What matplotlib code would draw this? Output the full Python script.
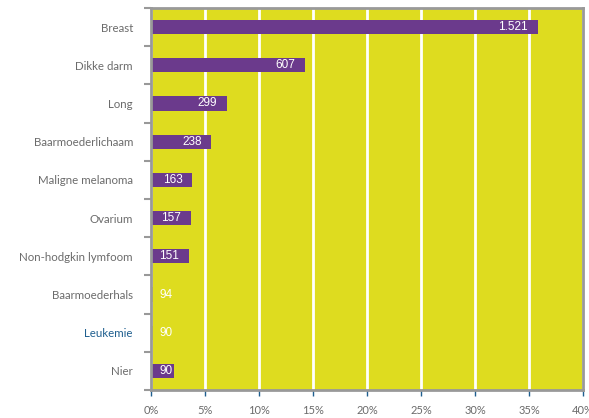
import matplotlib
matplotlib.use("Agg")
import matplotlib.pyplot as plt
from matplotlib.ticker import FixedLocator, FuncFormatter

# Cancer types (top to bottom) and number of cases
categories = ["Breast", "Dikke darm", "Long", "Baarmoederlichaam", "Maligne melanoma",
              "Ovarium", "Non-hodgkin lymfoom", "Baarmoederhals", "Leukemie", "Nier"]
counts = [1521, 607, 299, 238, 163, 157, 151, 94, 90, 90]
total_cases = 4250
xticks = [0, 5, 10, 15, 20, 25, 30, 35, 40]

BG = "#DEDC1F"
PURPLE = "#6B3A8C"
GREY = "#999999"
TEXT = "#6b6b6b"
BLUE = "#1F5F8F"
# bars without a fill for two rows
bar_colors = [PURPLE] * 7 + [BG, BG] + [PURPLE]
label_colors = [TEXT] * 8 + [BLUE] + [TEXT]

pct = [c / total_cases * 100 for c in counts]

fig = plt.figure(figsize=(5.89, 4.18), dpi=100)
ax = fig.add_axes([151 / 589, 1 - 390 / 418, 432 / 589, 382 / 418])
ax.set_facecolor(BG)

y = list(range(len(categories)))
ax.barh(y, pct, height=0.37, color=bar_colors, zorder=3)

ax.set_xlim(0, 40)
ax.set_ylim(len(categories) - 0.5, -0.5)

# white vertical gridlines
ax.xaxis.set_major_locator(FixedLocator(xticks))
ax.grid(axis="x", color="white", linewidth=2, zorder=1)
ax.set_axisbelow(True)
ax.xaxis.set_major_formatter(FuncFormatter(lambda v, p: f"{v:.0f}%"))
ax.tick_params(axis="x", direction="out", length=4, width=1, color=BLUE,
               labelcolor=TEXT, labelsize=8, pad=7)
for lab in ax.get_xticklabels():
    lab.set_fontfamily("Lato")

# category labels with tick marks between rows
ax.set_yticks(y)
ax.set_yticklabels(categories)
ax.tick_params(axis="y", which="major", length=0, pad=13, labelsize=8.3)
for lab, col in zip(ax.get_yticklabels(), label_colors):
    lab.set_color(col)
    lab.set_fontfamily("Lato")
ax.set_yticks([i + 0.5 for i in range(-1, len(categories))], minor=True)
ax.tick_params(axis="y", which="minor", direction="out", length=5, width=1.5, color=GREY)

for s in ax.spines.values():
    s.set_color(GREY)
    s.set_linewidth(2)
    s.set_zorder(5)

# value labels
for yi, p, c in zip(y, pct, counts):
    txt = f"{c:,}".replace(",", ".")
    bar_px = p / 40 * 432
    if bar_px > 35:
        ax.annotate(txt, (p, yi), xytext=(-10, 0), textcoords="offset pixels",
                    ha="right", va="center", color="white", fontsize=8.5,
                    fontfamily="Liberation Sans", zorder=4)
    else:
        ax.annotate(txt, (0, yi), xytext=(9, 0), textcoords="offset pixels",
                    ha="left", va="center", color="white", fontsize=8.5,
                    fontfamily="Liberation Sans", zorder=4)

fig.savefig("out.png", dpi=100)
